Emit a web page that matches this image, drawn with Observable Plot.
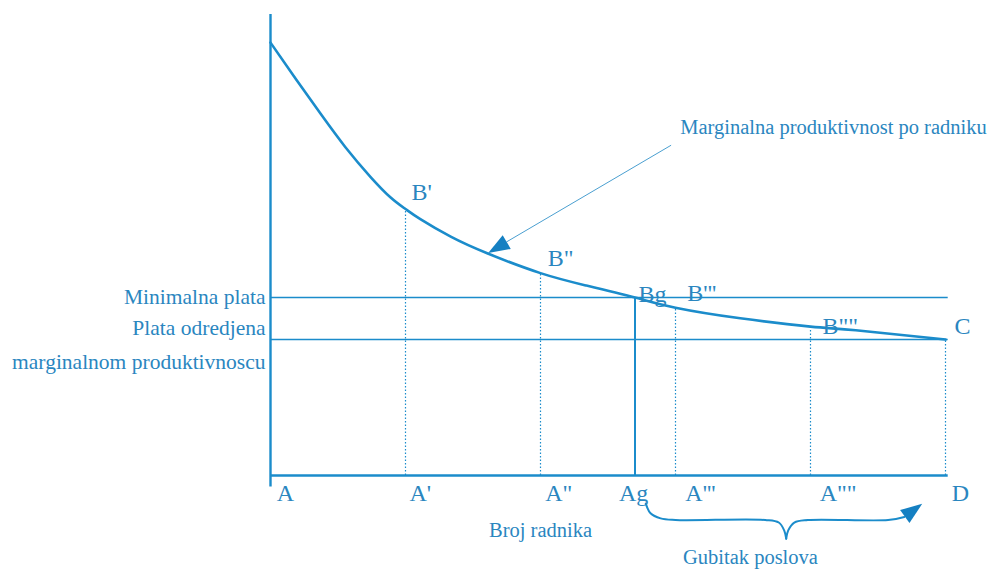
<!DOCTYPE html>
<html>
<head>
<meta charset="utf-8">
<script src="https://cdn.jsdelivr.net/npm/d3@7"></script>
<script src="https://cdn.jsdelivr.net/npm/@observablehq/plot@0.6"></script>
<style>
  html, body { margin: 0; padding: 0; background: #ffffff; }
  #chart { width: 1005px; height: 569px; }
</style>
</head>
<body>
<div id="chart"></div>
<script>
// Marginal productivity curve (x = broj radnika, y = produktivnost / plata)
const curveX = [0, 3.7, 7.4, 11.1, 14.8, 17.8, 20, 22.2, 26.7, 32.1, 40, 46.8, 54, 60, 69.6, 80, 86.7, 100];
const curveY = [93.9, 86.1, 78.5, 71.2, 64.8, 60.3, 57.8, 55.6, 51.8, 48.2, 43.9, 41.2, 38.6, 36.4, 34.1, 32.3, 31.5, 29.5];

// Wage levels
const minimalnaPlata = 38.6;
const plataMP = 29.5;

// Worker counts with dotted drop lines, and the Ag point
const dropX = [20, 40, 60, 80, 100];
const agX = 54;

// Axis point labels (below the x axis)
const aLabels = ["A", "A'", "A\"", "Ag", "A'''", "A\"\"", "D"];
const aLabelX = [2.2, 22.2, 42.7, 53.8, 63.7, 84.1, 102.2];
const aLabelY = -3.9;

// Curve point labels
const bLabels = ["B'", "B\"", "Bg", "B'''", "B\"\"", "C"];
const bLabelX = [22.4, 43, 56.6, 63.9, 84.4, 102.5];
const bLabelY = [61.4, 47.1, 39.3, 39.5, 32.3, 32.3];

// Left-side labels
const leftLabels = ["Minimalna plata", "Plata odredjena", "marginalnom produktivnoscu"];
const leftLabelY = [38.8, 31.9, 24.5];

// Other annotations
const curveNote = ["Marginalna produktivnost po radniku"];
const curveNoteX = 60.7, curveNoteY = 75.5;
const bottomNotes = ["Broj radnika", "Gubitak poslova"];
const bottomNoteX = [40, 71.1];
const bottomNoteY = [-11.9, -17.7];

// Pointer from the annotation to the curve
const pointerX = [59.3, 35.0];
const pointerY = [71.6, 50.7];
const pointerHead = {x: 33.9, y: 49.7, angle: 239.5};

// Brace marking job loss (two halves meeting at a cusp)
const braceLeftX = [55.6, 56.3, 57.8, 60, 73.3, 75.3, 76.1, 76.4];
const braceLeftY = [-6.1, -8.2, -9.3, -9.65, -9.65, -10.2, -11.9, -13.7];
const braceRightX = [76.4, 76.7, 77.6, 79.6, 91.5, 93.9];
const braceRightY = [-13.7, -11.9, -10.2, -9.65, -9.65, -9.0];
const braceHead = {x: 95.0, y: -7.8, angle: 54};

// ---- build tables ----
const curve = curveX.map((x, i) => ({x, y: curveY[i]}));
const yAt = x => curve.find(d => d.x === x).y;
const drops = dropX.map(x => ({x, y: yAt(x)}));
const aTable = aLabels.map((t, i) => ({t, x: aLabelX[i], y: aLabelY}));
const bTable = bLabels.map((t, i) => ({t, x: bLabelX[i], y: bLabelY[i]}));
const leftTable = leftLabels.map((t, i) => ({t, y: leftLabelY[i]}));
const bottomTable = bottomNotes.map((t, i) => ({t, x: bottomNoteX[i], y: bottomNoteY[i]}));
const pointer = pointerX.map((x, i) => ({x, y: pointerY[i]}));
const brace = [
  ...braceLeftX.map((x, i) => ({x, y: braceLeftY[i], z: "l"})),
  ...braceRightX.map((x, i) => ({x, y: braceRightY[i], z: "r"}))
];

// Elongated filled arrowhead symbol (tip points "up" before rotation)
const arrowHead = {
  draw(context, size) {
    const s = Math.sqrt(size);
    const L = 1.35 * s, w = 0.5 * s;
    context.moveTo(0, -0.6 * L);
    context.lineTo(w, 0.4 * L);
    context.lineTo(-w, 0.4 * L);
    context.closePath();
  }
};

const LINE = "#1b8ccb";
const TEXT = "#2a86bf";
const HEAD = "#1580c2";
const FONT = "'Liberation Serif', 'Times New Roman', serif";

const chart = Plot.plot({
  width: 1005,
  height: 569,
  marginLeft: 270,
  marginRight: 60,
  marginTop: 14,
  marginBottom: 94,
  x: {domain: [0, 100], axis: null},
  y: {domain: [0, 100], axis: null},
  style: {background: "#ffffff", fontFamily: FONT, overflow: "visible"},
  marks: [
    // axes
    Plot.ruleX([0], {y1: -2.5, y2: 100, stroke: LINE, strokeWidth: 2.4}),
    Plot.ruleY([0], {x1: 0, x2: 100.4, stroke: LINE, strokeWidth: 2.4}),
    // wage lines
    Plot.ruleY([minimalnaPlata, plataMP], {x1: 0, x2: 100.4, stroke: LINE, strokeWidth: 1.6}),
    // dotted drops
    Plot.ruleX(drops, {x: "x", y1: 0, y2: "y", stroke: LINE, strokeWidth: 1.2, strokeDasharray: "1.5,2"}),
    // Ag solid vertical
    Plot.ruleX([agX], {y1: 0, y2: yAt(agX), stroke: LINE, strokeWidth: 2}),
    // curve
    Plot.line(curve, {x: "x", y: "y", curve: "natural", stroke: LINE, strokeWidth: 2.6}),
    // pointer arrow
    Plot.line(pointer, {x: "x", y: "y", stroke: "#4a9fd0", strokeWidth: 1}),
    Plot.dot([pointerHead], {x: "x", y: "y", symbol: arrowHead, r: 9, fill: HEAD, stroke: "none", rotate: d => d.angle}),
    // brace
    Plot.line(brace, {x: "x", y: "y", z: "z", curve: "catmull-rom", stroke: LINE, strokeWidth: 2}),
    Plot.dot([braceHead], {x: "x", y: "y", symbol: arrowHead, r: 9, fill: HEAD, stroke: "none", rotate: d => d.angle}),
    // labels
    Plot.text(aTable, {x: "x", y: "y", text: "t", fill: TEXT, fontSize: 24, fontFamily: FONT, textAnchor: "middle"}),
    Plot.text(bTable, {x: "x", y: "y", text: "t", fill: TEXT, fontSize: 24, fontFamily: FONT, textAnchor: "middle"}),
    Plot.text(leftTable, {x: 0, y: "y", dx: -5, text: "t", fill: TEXT, fontSize: 21.5, fontFamily: FONT, textAnchor: "end"}),
    Plot.text(curveNote, {x: curveNoteX, y: curveNoteY, text: d => d, fill: TEXT, fontSize: 20.5, fontFamily: FONT, textAnchor: "start"}),
    Plot.text(bottomTable, {x: "x", y: "y", text: "t", fill: TEXT, fontSize: 20.5, fontFamily: FONT, textAnchor: "middle"})
  ]
});

document.getElementById("chart").append(chart);
</script>
</body>
</html>
